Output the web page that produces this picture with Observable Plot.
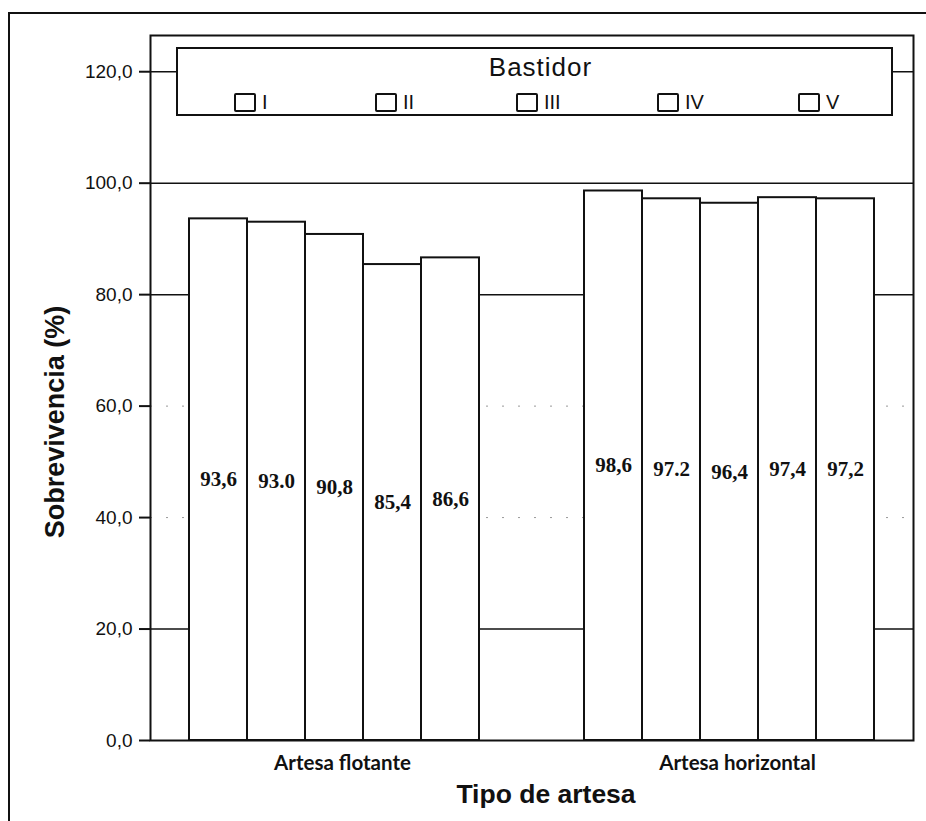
<!DOCTYPE html>
<html><head><meta charset="utf-8">
<script src="https://cdn.jsdelivr.net/npm/d3@7"></script>
<script src="https://cdn.jsdelivr.net/npm/@observablehq/plot@0.6"></script>
<style>
body{margin:0;background:#fff;}
#wrap{position:relative;width:926px;height:821px;overflow:hidden;font-family:"Liberation Sans",Arial,sans-serif;background:#fff;}
#border{position:absolute;left:8px;top:12px;width:940px;height:900px;border-left:2px solid #111;border-top:2px solid #111;}
.layer{position:absolute;left:0;top:0;}
#legend{position:absolute;left:176px;top:47px;width:713px;height:65px;border:2px solid #111;background:#fff;}
#legend .title{position:absolute;left:0;right:0;top:3px;text-align:center;font-size:26px;letter-spacing:1px;color:#111;padding-left:12px;}
#legend .items{position:absolute;left:56px;top:42px;display:flex;}
#legend .item{width:141px;display:flex;align-items:center;font-size:20px;color:#111;}
#legend .sw{width:18px;height:15px;border:2px solid #111;border-radius:2px;background:#fff;margin-right:6px;}
#ytitle{position:absolute;left:55px;top:422px;transform:translate(-50%,-50%) rotate(-90deg);font-size:27px;font-weight:bold;white-space:nowrap;color:#111;}
#xtitle{position:absolute;left:546px;top:779px;transform:translateX(-50%);font-size:26.5px;font-weight:bold;white-space:nowrap;color:#111;}
</style></head><body>
<div id="wrap">
  <div id="border"></div>
  <div id="bg" class="layer"></div>
  <div id="fg" class="layer"></div>
  <div id="legend"><div class="title">Bastidor</div><div class="items"></div></div>
  <div id="ytitle">Sobrevivencia (%)</div>
  <div id="xtitle">Tipo de artesa</div>
</div>
<script>
const tipos = ["Artesa flotante", "Artesa horizontal"];
const bastidores = ["I", "II", "III", "IV", "V"];
const flotante = [93.6, 93.0, 90.8, 85.4, 86.6];
const horizontal = [98.6, 97.2, 96.4, 97.4, 97.2];
const flotanteLabels = ["93,6", "93.0", "90,8", "85,4", "86,6"];
const horizontalLabels = ["98,6", "97.2", "96,4", "97,4", "97,2"];
const yTicks = [0, 20, 40, 60, 80, 100, 120];
const gridSolid = [20, 80, 100, 120];
const gridFaint = [40, 60];

const data = [];
bastidores.forEach((b, i) => {
  data.push({tipo: tipos[0], bastidor: b, value: flotante[i], label: flotanteLabels[i]});
  data.push({tipo: tipos[1], bastidor: b, value: horizontal[i], label: horizontalLabels[i]});
});

const items = document.querySelector("#legend .items");
bastidores.forEach(b => {
  const it = document.createElement("div");
  it.className = "item";
  it.innerHTML = `<span class="sw"></span><span>${b}</span>`;
  items.appendChild(it);
});

const dims = {width: 926, height: 821, marginLeft: 150, marginRight: 13, marginTop: 35, marginBottom: 81};
const yScale = {domain: [0, 126.5], axis: null};

// Background layer: grid, frame, y axis (spans the whole plot area)
const bg = Plot.plot({
  ...dims,
  style: {background: "transparent", color: "#111"},
  y: yScale,
  marks: [
    Plot.ruleY(gridSolid, {stroke: "#111", strokeWidth: 1.5}),
    Plot.ruleY(gridFaint, {stroke: "#999", strokeWidth: 1, strokeDasharray: "2,14"}),
    Plot.frame({stroke: "#111", strokeWidth: 2}),
    Plot.axisY(yTicks, {anchor: "left", label: null, tickSize: 11, tickPadding: 7,
      tickFormat: d => d.toFixed(1).replace(".", ","), fontSize: 19, fontFamily: "Liberation Sans, Arial, sans-serif",
      stroke: "#111", strokeWidth: 2, fill: "#111"})
  ]
});
document.getElementById("bg").appendChild(bg);

// Foreground layer: grouped bars faceted by tipo
const fg = Plot.plot({
  ...dims,
  style: {background: "transparent", color: "#111"},
  fx: {domain: tipos, paddingInner: 0.26, paddingOuter: 0.095, axis: null},
  x: {domain: bastidores, padding: 0, axis: null},
  y: yScale,
  marks: [
    Plot.barY(data, {fx: "tipo", x: "bastidor", y: "value", fill: "#fff", stroke: "#111", strokeWidth: 2}),
    Plot.text(data, {fx: "tipo", x: "bastidor", y: d => d.value / 2, text: "label",
      fontFamily: "Liberation Serif, Times New Roman, serif", fontWeight: "bold", fontSize: 21, fill: "#111"}),
    Plot.axisFx({anchor: "bottom", label: null, tickSize: 0, tickPadding: 15, dx: 8,
      fontSize: 20.5, fontWeight: "bold", fontFamily: "Lato, sans-serif", fill: "#111"})
  ]
});
document.getElementById("fg").appendChild(fg);
</script>
</body></html>
